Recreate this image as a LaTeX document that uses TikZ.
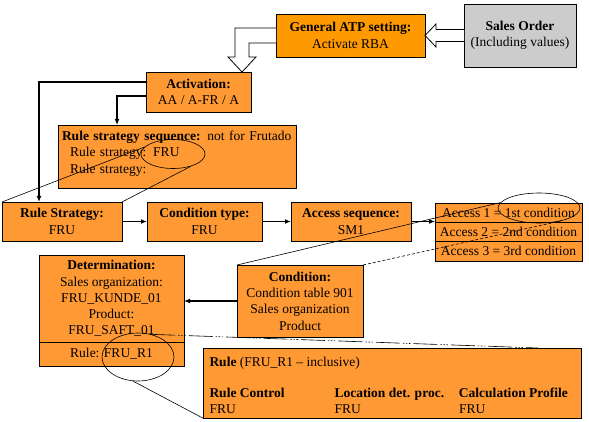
\documentclass[tikz,border=0pt]{standalone}
\usepackage{fontspec}
\setmainfont{Liberation Serif}
\usepackage{tikz}
\usetikzlibrary{positioning,shapes.geometric,arrows.meta}
\definecolor{rbaorange}{HTML}{FF9933}
\definecolor{atporange}{HTML}{FF9900}
\definecolor{ordergray}{HTML}{CCCCCC}
\tikzset{
  box/.style={draw, line width=0.9pt, fill=rbaorange, outer sep=0pt, inner sep=2pt, align=center, font=\fontsize{13.5}{16.3}\selectfont},
  accrow/.style={box, minimum width=147pt, minimum height=19.33pt},
  hl/.style={draw, ellipse, inner sep=0pt, line width=0.6pt},
  arrow/.style={-{Latex[length=6pt,width=5pt]}, line width=1.5pt},
  callout/.style={line width=0.6pt},
  dashcallout/.style={callout, dash pattern=on 3pt off 2pt},
  dotcallout/.style={callout, dash pattern=on 24pt off 3pt on 1.5pt off 1.5pt on 1.5pt off 1.5pt on 1.5pt off 3pt},
  hollow/.style={draw, fill=white, line width=0.8pt}
}

\begin{document}
\begin{tikzpicture}[x=1pt, y=-1pt]
  \useasboundingbox (0,0) rectangle (589,422);
  \node[box, fill=ordergray, minimum width=112pt, minimum height=63pt, anchor=north west] (sales) at (464,4) {\textbf{Sales Order}\\(Including values)};
  \node[box, fill=atporange, minimum width=149pt, minimum height=43pt, anchor=north west] (atp) at (276,14) {\textbf{General ATP setting:}\\Activate RBA};
  \node[box, minimum width=105pt, minimum height=40pt, anchor=north west] (act) at (146,72) {\textbf{Activation:}\\AA / A-FR / A};
  \node[box, minimum width=238pt, minimum height=63pt, text width=230pt, align=left, anchor=north west] (rss) at (58,125) {\textbf{Rule strategy sequence:} not for Frutado\\\hspace*{8pt}Rule strategy: FRU\\\hspace*{8pt}Rule strategy:\rule[-9pt]{0pt}{9pt}};
  \node[box, minimum width=120pt, minimum height=39pt, anchor=north west] (rs) at (2,202) {\textbf{Rule Strategy:}\\FRU};
  \node[box, minimum width=115pt, minimum height=39pt, right=25pt of rs] (ct) {\textbf{Condition type:}\\FRU};
  \node[box, minimum width=120pt, minimum height=39pt, right=29pt of ct] (as) {\textbf{Access sequence:}\\SM1};
  \node[accrow, anchor=north west] (acc1) at (435,203) {Access 1 = 1st condition};
  \node[accrow, below=0pt of acc1] (acc2) {Access 2 = 2nd condition};
  \node[accrow, below=0pt of acc2] (acc3) {Access 3 = 3rd condition};
  \node[box, minimum width=145pt, minimum height=87pt, anchor=north west] (det) at (39,255) {\textbf{Determination:}\\Sales organization:\\FRU\_KUNDE\_01\\Product:\\FRU\_SAFT\_01};
  \node[box, minimum width=145pt, minimum height=24pt, below=0pt of det] (detrule) {Rule: FRU\_R1};
  \node[box, minimum width=126pt, minimum height=72pt, anchor=north west] (cond) at (237,265) {\textbf{Condition:}\\Condition table 901\\Sales organization\\Product};
  \node[box, inner xsep=6.5pt, inner ysep=0pt, minimum height=69pt, align=left, anchor=north west] (rule) at (203,348) {\begin{tabular}{@{}p{113pt}p{112.5pt}p{115.5pt}@{}}
    \multicolumn{3}{@{}l@{}}{\rule{0pt}{18pt}\textbf{Rule} (FRU\_R1 – inclusive)}\\[14.7pt]
    \textbf{Rule Control} & \textbf{Location det. proc.} & \textbf{Calculation Profile}\\
    FRU & FRU & FRU
  \end{tabular}};
  \draw[hollow] ([yshift=6pt]sales.west) -- ([xshift=11pt,yshift=6pt]atp.east) -- ([xshift=11pt,yshift=11.5pt]atp.east) -- (atp.east) -- ([xshift=11pt,yshift=-11.5pt]atp.east) -- ([xshift=11pt,yshift=-6pt]atp.east) -- ([yshift=-6pt]sales.west);
  \draw[hollow] ([yshift=7.5pt]atp.west) -- ++(-41,0) -- ++(0,29) -- ++(-7,0) -- ([xshift=-9pt]act.north east) -- ++(14,-15) -- ++(-7,0) -- ++(0,-14) -- ([yshift=-7.5pt]atp.west);
  \draw[arrow] ([yshift=-10pt]act.north west) -| ([xshift=37pt]rs.north west);
  \draw[arrow] ([yshift=-24pt]act.north west) -| ([xshift=59pt]rss.north west);
  \draw[arrow] (rs.east) -- (ct.west);
  \draw[arrow] (ct.east) -- (as.west);
  \draw[arrow] (as.east) -- (as.east -| acc1.west);
  \draw[arrow] (cond.west) -- (cond.west -| det.east);
  \node[hl, minimum width=64pt, minimum height=29pt] (fruhl) at (173,154) {};
  \node[hl, minimum width=82pt, minimum height=30pt] (firsthl) at (539,208) {};
  \node[hl, minimum width=72pt, minimum height=48pt] (r1hl) at (138,357) {};
  \draw[callout] (rs.north west) -- (fruhl.166);
  \draw[callout] (rs.north east) -- (fruhl.325);
  \draw[callout] (cond.north west) -- (firsthl.172);
  \draw[dashcallout] (cond.north east) -- (firsthl.332);
  \draw[callout] (r1hl.258) -- (rule.south west);
  \draw[dotcallout] (r1hl.60) -- ([xshift=-43pt]rule.north east);
\end{tikzpicture}
\end{document}
